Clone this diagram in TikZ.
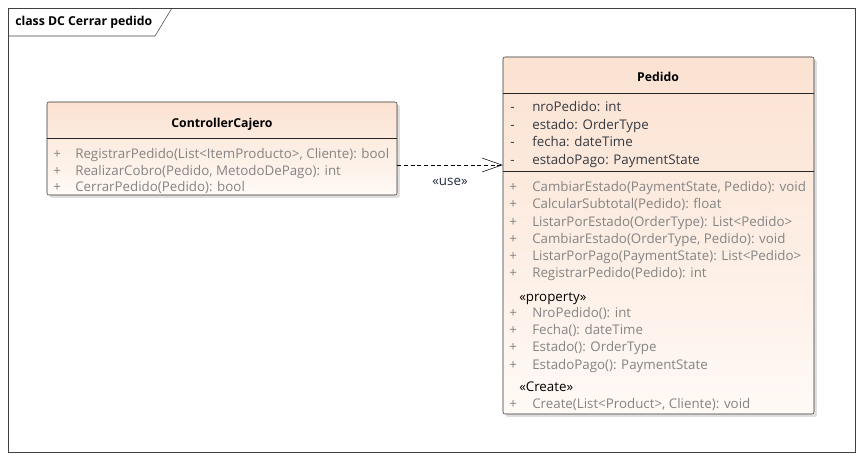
\documentclass[tikz,border=0pt]{standalone}
\usepackage{fontspec}
\setmainfont{Open Sans}
\usetikzlibrary{arrows.meta,fit,positioning,shadows}
\definecolor{umltop}{HTML}{FBE2D1}
\definecolor{umlbot}{HTML}{FFF9F5}
\definecolor{attrcol}{HTML}{353A42}
\definecolor{opcol}{HTML}{848484}
\definecolor{usecol}{HTML}{1F2A44}
\tikzset{
  classbox/.style={draw=black!80,rounded corners=1.5pt,inner sep=0pt,
    top color=umltop,bottom color=umlbot,
    drop shadow={shadow xshift=2.2pt,shadow yshift=-2.2pt,fill=black!13,opacity=1}},
  cname/.style={font=\fontsize{9.2}{11}\selectfont\bfseries,inner sep=0pt},
  member/.style={anchor=west,inner sep=0pt,text height=10pt,text depth=1.5pt},
  attr/.style={member,text=attrcol},
  oper/.style={member,text=opcol},
  stereo/.style={member,text=black},
  sepline/.style={draw=black!85},
  dep/.style={dash pattern=on 3pt off 2pt,-{Straight Barb[length=15pt,width=10.5pt]}}
}

\begin{document}
\begin{tikzpicture}[x=0.75pt,y=-0.75pt,font=\fontsize{10}{11}\selectfont]
  \useasboundingbox (0,0) rectangle (864,460);
  % diagram frame
  \coordinate (f1) at (8,8);
  \coordinate (f2) at (855,452);
  \node[draw=black!75,inner sep=0pt,fit=(f1) (f2)] (frame) {};
  \draw[black!75] (8,36) -- (155,36) -- (172,8);
  \node[cname,anchor=west] (title) at (15,22) {class DC Cerrar pedido};

  % ControllerCajero
  \coordinate (c1) at (47,102);
  \coordinate (c2) at (397,195);
  \node[classbox,fit=(c1) (c2)] (cc) {};
  \node[cname] (ccname) at (222,124) {ControllerCajero};
  \draw[sepline] (47,138) -- (397,138);
  \node[oper] (ccv1) at (53,153) {+};
  \node[oper] (ccop1) at (75,153) {RegistrarPedido(List<ItemProducto>, Cliente): bool};
  \node[oper] (ccv2) at (53,170) {+};
  \node[oper] (ccop2) at (75,170) {RealizarCobro(Pedido, MetodoDePago): int};
  \node[oper] (ccv3) at (53,186) {+};
  \node[oper] (ccop3) at (75,186) {CerrarPedido(Pedido): bool};

  % Pedido
  \coordinate (p1) at (503,57);
  \coordinate (p2) at (814,414);
  \node[classbox,fit=(p1) (p2)] (ped) {};
  \node[cname] (pedname) at (658,77) {Pedido};
  \draw[sepline] (503,93) -- (814,93);
  \node[attr] (pv1) at (510,106) {-};
  \node[attr] (pa1) at (532,106) {nroPedido: int};
  \node[attr] (pv2) at (510,124) {-};
  \node[attr] (pa2) at (532,124) {estado: OrderType};
  \node[attr] (pv3) at (510,141) {-};
  \node[attr] (pa3) at (532,141) {fecha: dateTime};
  \node[attr] (pv4) at (510,159) {-};
  \node[attr] (pa4) at (532,159) {estadoPago: PaymentState};
  \draw[sepline] (503,171) -- (814,171);
  \node[oper] (pv5) at (509,186) {+};
  \node[oper] (pop1) at (532,186) {CambiarEstado(PaymentState, Pedido): void};
  \node[oper] (pv6) at (509,203) {+};
  \node[oper] (pop2) at (532,203) {CalcularSubtotal(Pedido): float};
  \node[oper] (pv7) at (509,221) {+};
  \node[oper] (pop3) at (532,221) {ListarPorEstado(OrderType): List<Pedido>};
  \node[oper] (pv8) at (509,238) {+};
  \node[oper] (pop4) at (532,238) {CambiarEstado(OrderType, Pedido): void};
  \node[oper] (pv9) at (509,255) {+};
  \node[oper] (pop5) at (532,255) {ListarPorPago(PaymentState): List<Pedido>};
  \node[oper] (pv10) at (509,272) {+};
  \node[oper] (pop6) at (532,272) {RegistrarPedido(Pedido): int};
  \node[stereo] (prop) at (519,296) {«property»};
  \node[oper] (pv11) at (509,312) {+};
  \node[oper] (pop7) at (532,312) {NroPedido(): int};
  \node[oper] (pv12) at (509,329) {+};
  \node[oper] (pop8) at (532,329) {Fecha(): dateTime};
  \node[oper] (pv13) at (509,346) {+};
  \node[oper] (pop9) at (532,346) {Estado(): OrderType};
  \node[oper] (pv14) at (509,364) {+};
  \node[oper] (pop10) at (532,364) {EstadoPago(): PaymentState};
  \node[stereo] (create) at (519,386) {«Create»};
  \node[oper] (pv15) at (509,403) {+};
  \node[oper] (pop11) at (532,403) {Create(List<Product>, Cliente): void};

  % dependency
  \coordinate (usefrom) at (cc.east |- 0,165);
  \draw[dep] (usefrom) -- (usefrom -| ped.west);
  \node[member,anchor=center,text=usecol] (uselbl) at (450,180) {«use»};
\end{tikzpicture}
\end{document}
